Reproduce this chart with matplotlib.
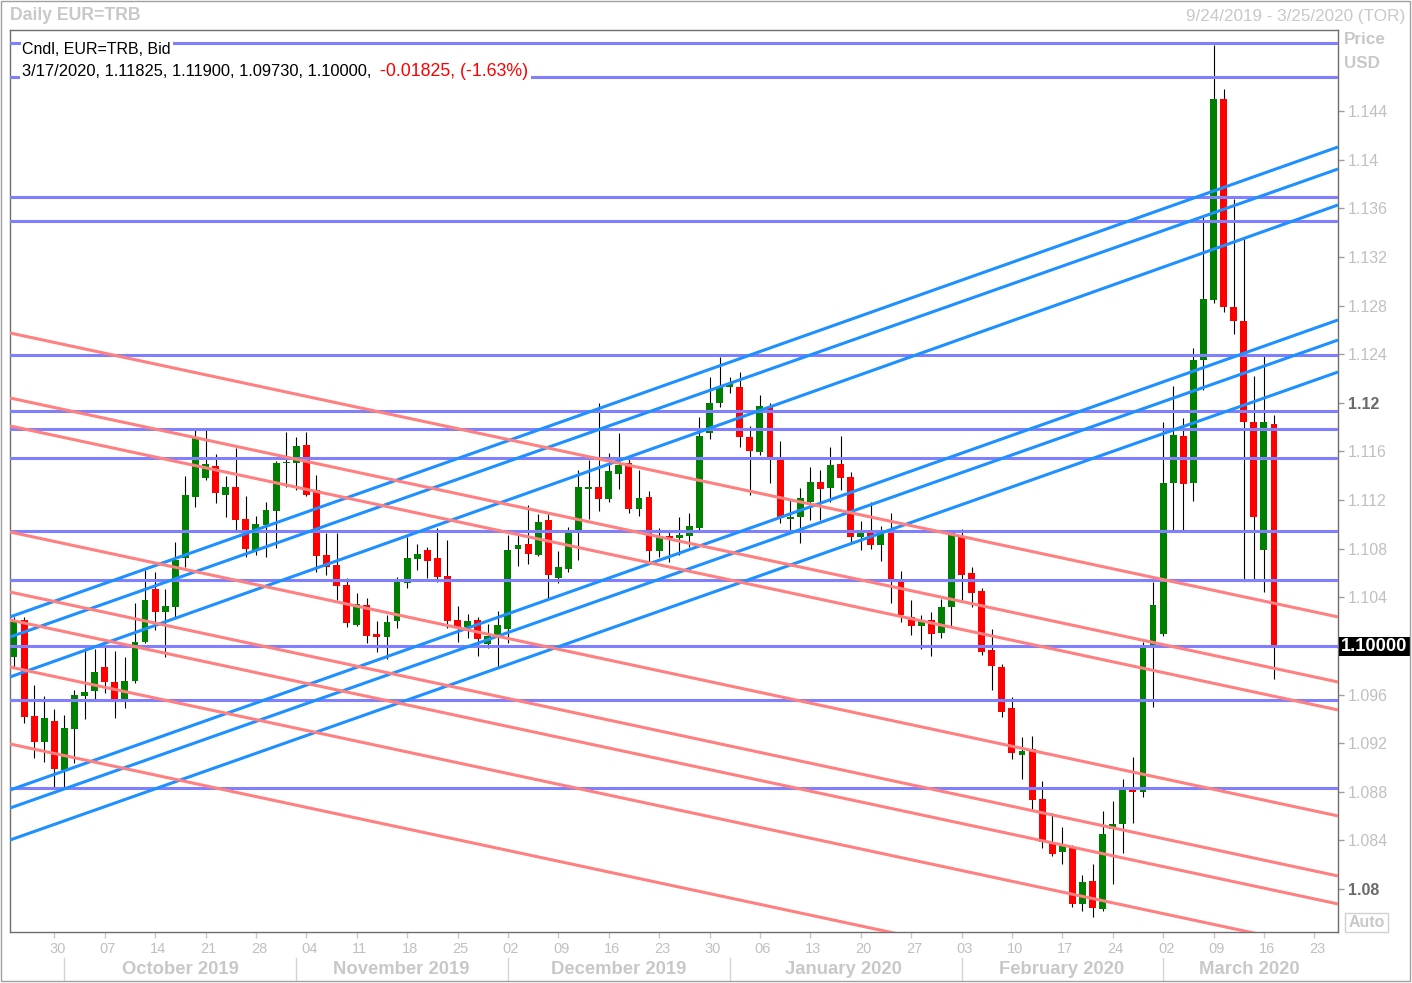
import matplotlib
matplotlib.use("Agg")
import matplotlib.pyplot as plt
import numpy as np
import pandas as pd
from matplotlib.patches import Rectangle
from matplotlib.lines import Line2D
from matplotlib.transforms import ScaledTranslation, blended_transform_factory

# ---------------- data ----------------
dates = pd.bdate_range("2019-09-24", "2020-03-17")

opens = [1.09912, 1.10214, 1.09427, 1.09213, 1.09383, 1.08980, 1.09317, 1.09589, 1.09632, 1.09827,
         1.09704, 1.09562, 1.09715, 1.10030, 1.10469, 1.10282, 1.10323, 1.10721, 1.11228, 1.11384,
         1.11481, 1.11242, 1.11310, 1.11045, 1.10790, 1.10995, 1.11113, 1.11505, 1.11508, 1.11653,
         1.11283, 1.10749, 1.10666, 1.10502, 1.10173, 1.10337, 1.10099, 1.10077, 1.10208, 1.10516,
         1.10718, 1.10790, 1.10726, 1.10576, 1.10214, 1.10154, 1.10214, 1.10014, 1.10082, 1.10140,
         1.10795, 1.10839, 1.10749, 1.11036, 1.10562, 1.10633, 1.10927, 1.11291, 1.11305, 1.11209,
         1.11415, 1.11508, 1.11127, 1.11228, 1.10781, 1.10907, 1.10891, 1.10907, 1.10968, 1.11755,
         1.11996, 1.12128, 1.12128, 1.11717, 1.11598, 1.11964, 1.11544, 1.11045, 1.11064, 1.11187,
         1.11352, 1.11297, 1.11497, 1.11393, 1.10899, 1.10932, 1.10831, 1.10940, 1.10529, 1.10236,
         1.10167, 1.10214, 1.10109, 1.10323, 1.10899, 1.10603, 1.10455, 1.09967, 1.09825, 1.09488,
         1.09106, 1.09150, 1.08741, 1.08382, 1.08308, 1.08349, 1.07878, 1.08067, 1.07834, 1.08492,
         1.08536, 1.08815, 1.08801, 1.09984, 1.10098, 1.11339, 1.11724, 1.11339, 1.12356, 1.12848,
         1.14496, 1.12791, 1.12677, 1.11839, 1.10786, 1.11825]
highs = [1.10241, 1.10241, 1.09679, 1.09589, 1.09482, 1.09432, 1.09638, 1.09984, 1.09975, 1.09994,
         1.09959, 1.09912, 1.10354, 1.10625, 1.10609, 1.10469, 1.10858, 1.11398, 1.11777, 1.11777,
         1.11579, 1.11398, 1.11629, 1.11234, 1.11069, 1.11187, 1.11520, 1.11763, 1.11722, 1.11763,
         1.11407, 1.10932, 1.10927, 1.10557, 1.10438, 1.10392, 1.10206, 1.10255, 1.10570, 1.10899,
         1.10839, 1.10812, 1.10968, 1.10872, 1.10329, 1.10263, 1.10236, 1.10181, 1.10290, 1.10913,
         1.10932, 1.11160, 1.11086, 1.11086, 1.10781, 1.10981, 1.11448, 1.11530, 1.11996, 1.11590,
         1.11755, 1.11547, 1.11448, 1.11278, 1.10968, 1.10954, 1.11059, 1.11097, 1.11886, 1.12215,
         1.12380, 1.12215, 1.12256, 1.11810, 1.12065, 1.12001, 1.11689, 1.11207, 1.11302, 1.11475,
         1.11448, 1.11635, 1.11727, 1.11434, 1.11028, 1.11187, 1.10987, 1.11092, 1.10619, 1.10378,
         1.10255, 1.10277, 1.10384, 1.10954, 1.10960, 1.10647, 1.10475, 1.10140, 1.09852, 1.09578,
         1.09249, 1.09260, 1.08889, 1.08624, 1.08514, 1.08364, 1.08116, 1.08207, 1.08643, 1.08725,
         1.08906, 1.09084, 1.10037, 1.10529, 1.11839, 1.12142, 1.11874, 1.12452, 1.13533, 1.14942,
         1.14586, 1.13677, 1.13355, 1.12224, 1.12386, 1.11900]
lows = [1.09830, 1.09367, 1.09079, 1.09048, 1.08843, 1.08843, 1.09040, 1.09400, 1.09564, 1.09616,
        1.09410, 1.09492, 1.09698, 1.10022, 1.10132, 1.09912, 1.10241, 1.10652, 1.11146, 1.11366,
        1.11179, 1.11064, 1.10954, 1.10735, 1.10749, 1.10735, 1.10804, 1.11310, 1.11283, 1.11230,
        1.10609, 1.10584, 1.10378, 1.10159, 1.10165, 1.10022, 1.09953, 1.09891, 1.10146, 1.10475,
        1.10625, 1.10557, 1.10529, 1.10146, 1.10035, 1.10068, 1.09920, 1.09981, 1.09830, 1.10027,
        1.10661, 1.10672, 1.10740, 1.10378, 1.10516, 1.10611, 1.10707, 1.11042, 1.11111, 1.11187,
        1.11289, 1.11097, 1.11069, 1.10693, 1.10735, 1.10693, 1.10749, 1.10817, 1.10954, 1.11700,
        1.11964, 1.12079, 1.11639, 1.11242, 1.11571, 1.11338, 1.11014, 1.10954, 1.10850, 1.11036,
        1.11036, 1.11187, 1.11283, 1.10850, 1.10790, 1.10798, 1.10699, 1.10356, 1.10200, 1.10090,
        1.09975, 1.09920, 1.10063, 1.10165, 1.10378, 1.10323, 1.09926, 1.09638, 1.09418, 1.09070,
        1.08906, 1.08645, 1.08341, 1.08275, 1.08207, 1.07851, 1.07820, 1.07773, 1.07823, 1.08042,
        1.08300, 1.08546, 1.08760, 1.09501, 1.10080, 1.10946, 1.10946, 1.11196, 1.12106, 1.12820,
        1.12748, 1.12570, 1.10554, 1.10554, 1.10447, 1.09730]
closes = [1.10200, 1.09418, 1.09213, 1.09410, 1.08988, 1.09328, 1.09597, 1.09622, 1.09786, 1.09704,
          1.09562, 1.09712, 1.10030, 1.10378, 1.10282, 1.10329, 1.10707, 1.11242, 1.11717, 1.11497,
          1.11256, 1.11310, 1.11036, 1.10798, 1.11004, 1.11119, 1.11508, 1.11516, 1.11645, 1.11242,
          1.10740, 1.10652, 1.10496, 1.10192, 1.10345, 1.10082, 1.10077, 1.10197, 1.10529, 1.10726,
          1.10757, 1.10702, 1.10570, 1.10208, 1.10154, 1.10206, 1.10058, 1.10082, 1.10173, 1.10790,
          1.10831, 1.10757, 1.11022, 1.10584, 1.10652, 1.10935, 1.11305, 1.11308, 1.11212, 1.11442,
          1.11489, 1.11127, 1.11217, 1.10781, 1.10899, 1.10891, 1.10913, 1.10987, 1.11727, 1.12001,
          1.12128, 1.12161, 1.11717, 1.11607, 1.11974, 1.11557, 1.11064, 1.11064, 1.11220, 1.11352,
          1.11289, 1.11489, 1.11384, 1.10899, 1.10932, 1.10831, 1.10927, 1.10549, 1.10255, 1.10167,
          1.10208, 1.10099, 1.10323, 1.10927, 1.10584, 1.10438, 1.09953, 1.09838, 1.09460, 1.09122,
          1.09136, 1.08733, 1.08390, 1.08289, 1.08355, 1.07878, 1.08061, 1.07842, 1.08453, 1.08536,
          1.08815, 1.08801, 1.09984, 1.10337, 1.11339, 1.11732, 1.11332, 1.12349, 1.12855, 1.14496,
          1.12791, 1.12670, 1.11839, 1.11064, 1.11839, 1.10000]

# drawn horizontal levels
h_levels = [1.1496, 1.1468, 1.13693, 1.13496, 1.12394, 1.11933, 1.11785, 1.11547,
            1.10946, 1.10543, 1.10000, 1.09556, 1.08832]
# rising (blue) trend lines: price at left edge / right edge of the plot
blue_start = [1.10239, 1.10074, 1.09745, 1.08815, 1.08667, 1.08404]
blue_end = [1.14105, 1.13924, 1.13628, 1.12682, 1.12517, 1.12254]
# falling (red) trend lines
red_start = [1.12575, 1.12040, 1.11810, 1.10938, 1.10444, 1.10214, 1.09827, 1.09194]
red_end = [1.10239, 1.09704, 1.09474, 1.08602, 1.08108, 1.07878, 1.07491, 1.06858]

y_ticks = [1.08, 1.084, 1.088, 1.092, 1.096, 1.10, 1.104, 1.108, 1.112, 1.116,
           1.12, 1.124, 1.128, 1.132, 1.136, 1.14, 1.144]
month_names = ["October 2019", "November 2019", "December 2019",
               "January 2020", "February 2020", "March 2020"]
month_label_pos = [16.5, 38.4, 60.0, 82.3, 103.9, 122.6]
month_starts = ["2019-10-01", "2019-11-01", "2019-12-02", "2020-01-01", "2020-02-03", "2020-03-02"]

title_left = "Daily EUR=TRB"
title_right = "9/24/2019 - 3/25/2020 (TOR)"
legend_1 = "Cndl, EUR=TRB, Bid"
legend_2 = "3/17/2020, 1.11825, 1.11900, 1.09730, 1.10000,"
legend_3 = "-0.01825, (-1.63%)"

# ---------------- figure ----------------
W, H = 1412, 983
FONT = "Liberation Sans"
plt.rcParams['font.family'] = [FONT, 'DejaVu Sans']
fig = plt.figure(figsize=(W / 100, H / 100), dpi=100)
fig.patch.set_facecolor("white")
renderer = fig.canvas.get_renderer()

ax = fig.add_axes([10 / W, 1 - 932 / H, 1328 / W, 902 / H])
XL, XR = -0.397, 131.35
ax.set_xlim(XL, XR)
ax.set_ylim(1.076473, 1.150673)
ax.set_facecolor("white")

n = len(opens)
xs = np.arange(n)
o = np.array(opens); c = np.array(closes); hi = np.array(highs); lo = np.array(lows)
up = c >= o
body_bottom = np.minimum(o, c)
body_h = np.maximum(np.abs(c - o), 0.00003)
ax.vlines(xs, lo, hi, color="black", lw=0.8, zorder=2)
ax.bar(xs, body_h, bottom=body_bottom, width=0.68,
       color=np.where(up, "#008000", "#ff0000"), linewidth=0, zorder=3)

for p in h_levels:
    ax.axhline(p, color="#8080ff", lw=2.2, zorder=4)
for s, e in zip(blue_start, blue_end):
    ax.plot([XL, XR], [s, e], color="#1e90ff", lw=2.2, zorder=4, solid_capstyle="butt")
for s, e in zip(red_start, red_end):
    ax.plot([XL, XR], [s, e], color="#ff8080", lw=2.2, zorder=4, solid_capstyle="butt")

for sp in ax.spines.values():
    sp.set_color("#6e6e6e")
    sp.set_linewidth(1)

# y axis on the right
ax.yaxis.tick_right()
ax.set_yticks(y_ticks)
ylabels = []
for v in y_ticks:
    s = ("%.3f" % v).rstrip("0")
    ylabels.append("" if abs(v - 1.10) < 1e-9 else s)
ax.set_yticklabels(ylabels)
ax.tick_params(axis="y", length=4, width=1, color="#a0a0a0", labelsize=11.5,
               labelcolor="#c0c0c0", pad=3)
for lab, v in zip(ax.get_yticklabels(), y_ticks):
    if abs(v - 1.12) < 1e-9 or abs(v - 1.08) < 1e-9:
        lab.set_fontweight("bold")
        lab.set_color("#6a6a6a")

# x axis: Mondays
ext = pd.bdate_range("2019-09-24", "2020-03-27")
mondays = [i for i, d in enumerate(ext) if d.weekday() == 0]
ax.set_xticks(mondays)
ax.set_xticklabels([ext[i].strftime("%d") for i in mondays])
ax.tick_params(axis="x", length=4, width=1, color="#c8c8c8", labelsize=10.5,
               labelcolor="#c0c0c0", pad=3)
for lab in ax.get_xticklabels():
    lab.set_transform(lab.get_transform() + ScaledTranslation(3 / 100, 0, fig.dpi_scale_trans))

# month row
bt = blended_transform_factory(ax.transData, fig.transFigure)
ms_idx = [int(np.searchsorted(ext, pd.Timestamp(d))) for d in month_starts]
for i in ms_idx:
    ax.add_line(Line2D([i, i], [1 - 958 / H, 1 - 980 / H], transform=bt,
                       color="#d4d4d4", lw=1, clip_on=False))


def fit(s, width_px, **kw):
    t = fig.text(0, 0, s, fontsize=10, **kw)
    w = t.get_window_extent(renderer).width
    t.remove()
    return 10 * width_px / w


msize = fit(month_names[0], 117, fontweight="bold")
for name, pos in zip(month_names, month_label_pos):
    ax.text(pos, 1 - 969 / H, name, transform=bt, ha="center", va="center",
            fontsize=msize, fontweight="bold", color="#c8c8c8", clip_on=False)

# titles
fig.text(10 / W, 1 - 16 / H, title_left, ha="left", va="center",
         fontsize=fit(title_left, 131, fontweight="bold"), fontweight="bold", color="#c8c8c8")
fig.text(1405 / W, 1 - 16 / H, title_right, ha="right", va="center",
         fontsize=fit(title_right, 220), color="#c8c8c8")

# legend in the plot (white backing strip so the levels are hidden behind the text)
fig.add_artist(Rectangle((20 / W, 1 - 81 / H), 511 / W, 18 / H, transform=fig.transFigure,
                         facecolor="white", edgecolor="none", zorder=9))
bb = dict(facecolor="white", edgecolor="none", pad=1.2)
fig.text(22.4 / W, 1 - 49 / H, legend_1, ha="left", va="center", fontsize=fit(legend_1, 149),
         color="black", bbox=bb, zorder=10)
fig.text(22.4 / W, 1 - 72 / H, legend_2, ha="left", va="center", fontsize=fit(legend_2, 351),
         color="black", zorder=10)
fig.text(379.8 / W, 1 - 72 / H, legend_3, ha="left", va="center", fontsize=fit(legend_3, 148),
         color="#ff0000", zorder=10)

# right panel labels
fig.text(1344 / W, 1 - 40 / H, "Price", ha="left", va="center",
         fontsize=fit("Price", 42, fontweight="bold"), fontweight="bold", color="#c8c8c8")
fig.text(1344 / W, 1 - 63 / H, "USD", ha="left", va="center",
         fontsize=fit("USD", 36, fontweight="bold"), fontweight="bold", color="#c8c8c8")

# current value box
fig.add_artist(Rectangle((1339 / W, 1 - 656 / H), 71 / W, 19 / H, transform=fig.transFigure,
                         facecolor="black", edgecolor="none"))
fig.text(1341 / W, 1 - 646.5 / H, "1.10000", ha="left", va="center",
         fontsize=fit("1.10000", 67, fontweight="bold"), fontweight="bold", color="white")

# Auto box
fig.add_artist(Rectangle((1345 / W, 1 - 932 / H), 43 / W, 19 / H, transform=fig.transFigure,
                         facecolor="white", edgecolor="#d0d0d0", lw=1))
fig.text(1366.5 / W, 1 - 922.5 / H, "Auto", ha="center", va="center",
         fontsize=fit("Auto", 36, fontweight="bold"), fontweight="bold", color="#c8c8c8")

# outer frame
fig.add_artist(Rectangle((1 / W, 1 - 981 / H), 1409 / W, 980 / H, transform=fig.transFigure,
                         fill=False, edgecolor="#a0a0a0", lw=1))

fig.savefig("out.png", dpi=100, facecolor="white")
